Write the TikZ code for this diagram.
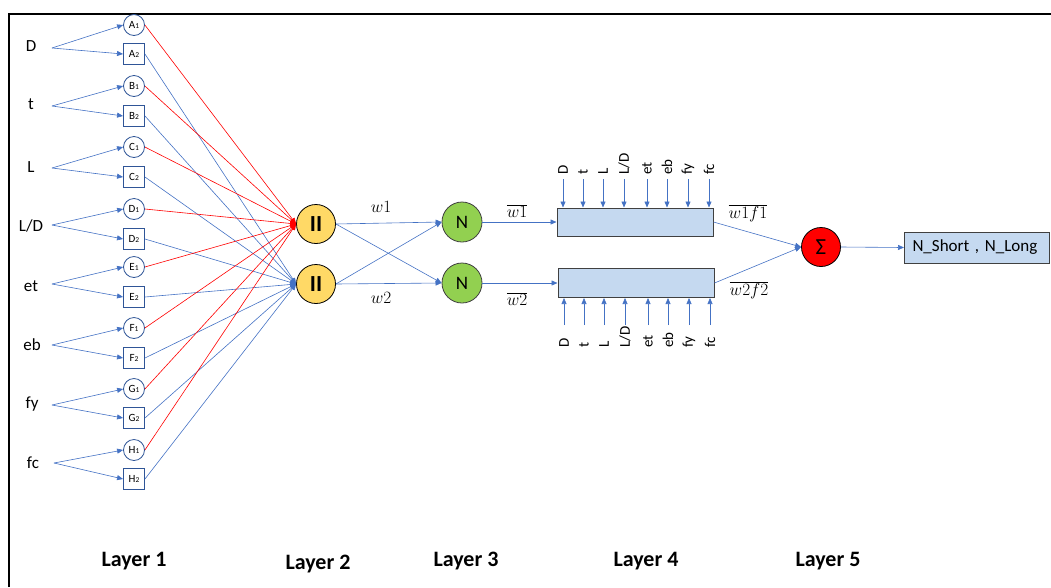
\documentclass[tikz,border=0pt]{standalone}
\usepackage{fontspec}
\setmainfont{Carlito}
\usetikzlibrary{arrows.meta}
\definecolor{lineblue}{HTML}{4472C4}
\definecolor{nodeblue}{HTML}{2F5597}
\definecolor{pifill}{HTML}{FFD966}
\definecolor{nfill}{HTML}{92D050}
\definecolor{boxfill}{HTML}{C5D9F0}
\definecolor{boxdraw}{HTML}{404040}
\newcommand{\subidx}[1]{\raisebox{-0.6pt}{\fontsize{7.5}{7.5}\selectfont #1}}
\tikzset{
  inlabel/.style={font=\fontsize{17}{17}\selectfont, inner sep=0pt},
  cnode/.style={circle, draw=nodeblue, line width=0.8pt, fill=white,
    minimum size=21pt, inner sep=0pt, font=\fontsize{11}{11}\selectfont},
  snode/.style={rectangle, draw=nodeblue, line width=0.9pt, fill=white,
    minimum size=21pt, inner sep=0pt, font=\fontsize{11}{11}\selectfont},
  tip/.style={-{Triangle[length=6pt,width=5pt]}},
  feed/.style={draw=lineblue, line width=0.6pt, tip},
  redfeed/.style={draw=red, line width=0.6pt, tip},
  pinode/.style={circle, draw=black, line width=0.8pt, fill=pifill,
    minimum size=39pt, inner sep=0pt, font=\fontsize{23}{23}\selectfont\bfseries},
  nnode/.style={circle, draw=boxdraw, line width=0.8pt, fill=nfill,
    minimum size=40pt, inner sep=0pt, font=\fontsize{19}{19}\selectfont},
  sumnode/.style={circle, draw=black, line width=0.8pt, fill=red,
    minimum size=39pt, inner sep=0pt, font=\fontsize{23}{23}\selectfont},
  funcbox/.style={rectangle, draw=boxdraw, line width=1pt, fill=boxfill,
    minimum width=156pt, inner sep=0pt},
  outbox/.style={rectangle, draw=boxdraw, line width=1pt, fill=boxfill,
    minimum height=31pt, text width=129pt, inner xsep=8pt, inner ysep=0pt,
    align=left, font=\fontsize{17}{17}\selectfont},
  vlabel/.style={rotate=90, anchor=west, inner sep=1pt, font=\fontsize{15}{15}\selectfont},
  wlabel/.style={font=\fontsize{19}{19}\selectfont, inner sep=0pt},
  layer/.style={font=\fontsize{22}{22}\selectfont\bfseries, inner sep=0pt}
}
\begin{document}
\begin{tikzpicture}[x=1pt, y=-1pt]
\useasboundingbox (0,0) rectangle (1051,587);
% frame
\draw[line width=2pt] (8.5,587) -- (8.5,13.5) -- (1051,13.5);

% input variables
\node[inlabel] (inD)  at (31,46)  {D};
\node[inlabel] (int)  at (31,104) {t};
\node[inlabel] (inL)  at (31,167) {L};
\node[inlabel] (inLD) at (31,226) {L/D};
\node[inlabel] (inet) at (31,286) {et};
\node[inlabel] (ineb) at (32,345) {eb};
\node[inlabel] (infy) at (32,404) {fy};
\node[inlabel] (infc) at (33,463) {fc};
\coordinate (sD)  at (52,48);
\coordinate (st)  at (52,106);
\coordinate (sL)  at (52,168);
\coordinate (sLD) at (52,225);
\coordinate (set) at (52,284);
\coordinate (seb) at (52,345);
\coordinate (sfy) at (52,405);
\coordinate (sfc) at (54,463);

% layer 1 membership nodes
\foreach \L/\ya/\yb in {A/25/54, B/86/116, C/147/177, D/209/239,
                        E/267/297, F/328/358, G/389/418, H/450/479} {
  \node[cnode] (\L1) at (134,\ya) {\L\subidx{1}};
  \node[snode] (\L2) at (134,\yb) {\L\subidx{2}};
}
\foreach \s/\L in {sD/A, st/B, sL/C, sLD/D, set/E, seb/F, sfy/G, sfc/H} {
  \draw[feed] (\s) -- (\L1.west);
  \draw[feed] (\s) -- (\L2.west);
}

% layer 2 product nodes
\node[pinode] (P1) at (316,224) {II};
\node[pinode] (P2) at (316,284) {II};
\foreach \L in {A,B,C,D,E,F,G,H} {
  \draw[redfeed] (\L1.east) -- (P1.west);
  \draw[feed] (\L2.east) -- (P2.west);
}

% layer 3 normalisation nodes
\node[nnode] (N1) at (462,222) {N};
\node[nnode] (N2) at (462,283) {N};
\draw[feed] (P1.east) -- (N1.west);
\draw[feed] (P1.east) -- (N2.west);
\draw[feed] (P2.east) -- (N1.west);
\draw[feed] (P2.east) -- (N2.west);
\node[wlabel] (w1) at (381,207) {$w1$};
\node[wlabel] (w2) at (381,298) {$w2$};

% layer 4 consequent boxes
\node[funcbox, minimum height=28pt] (R1) at (635,222) {};
\node[funcbox, minimum height=29pt] (R2) at (636,283) {};
\draw[feed] (N1.east) -- (R1.west);
\draw[feed] (N2.east) -- (R2.west);
\node[wlabel] (wb1) at (517,211) {$\overline{w1}$};
\node[wlabel] (wb2) at (517,299) {$\overline{w2}$};
\foreach \x/\lab [count=\i] in {563/D, 583/t, 603/L, 624/L{/}D,
                                647/et, 667/eb, 688/fy, 709/fc} {
  \node[vlabel] (ta\i) at (\x,176) {\lab};
  \coordinate (tt\i) at (\x,179);
  \draw[feed] (tt\i) -- (tt\i |- R1.north);
  \node[vlabel] (ba\i) at (\x+1,349) {\lab};
  \coordinate (bb\i) at (\x+1,325);
  \draw[feed] (bb\i) -- (bb\i |- R2.south);
}

% layer 5 summation and output
\node[sumnode] (S) at (821,247) {Σ};
\draw[feed] (R1.east) -- (S.west);
\draw[feed] (R2.east) -- (S.west);
\node[wlabel] (wf1) at (748,213) {$\overline{w1f1}$};
\node[wlabel] (wf2) at (749,290) {$\overline{w2f2}$};
\node[outbox, anchor=west] (O) at (904,247.5) {N\_Short , N\_Long};
\draw[feed] (S.east) -- (O.west);

% layer captions
\node[layer] (l1) at (134,561) {Layer 1};
\node[layer] (l2) at (318,564) {Layer 2};
\node[layer] (l3) at (466,561) {Layer 3};
\node[layer] (l4) at (646,561) {Layer 4};
\node[layer] (l5) at (828,561) {Layer 5};
\end{tikzpicture}
\end{document}
